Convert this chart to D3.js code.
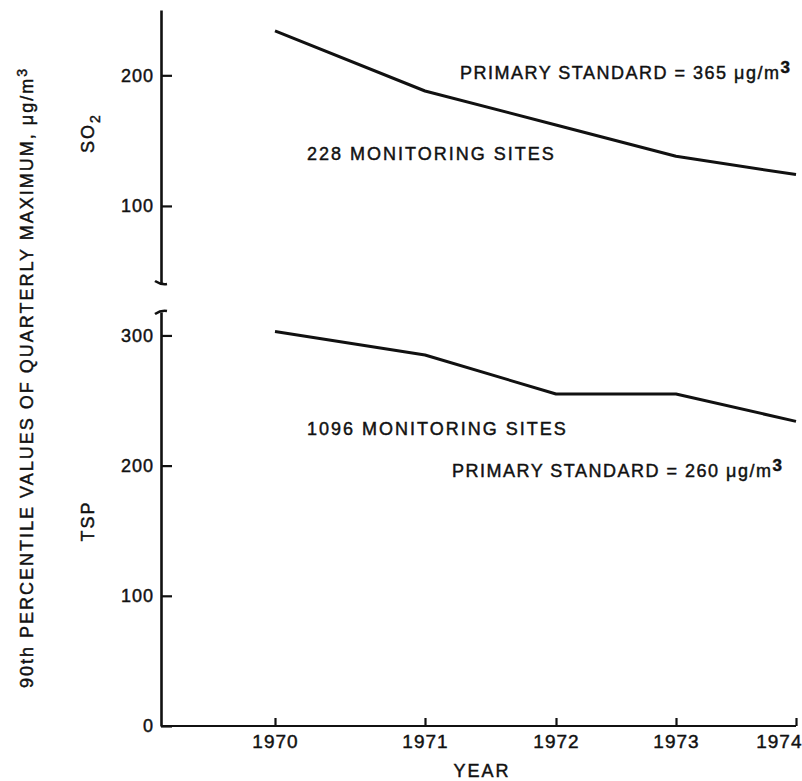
<!DOCTYPE html>
<html>
<head>
<meta charset="utf-8">
<script src="https://cdn.jsdelivr.net/npm/d3@7"></script>
<style>
  body { margin: 0; background: #fff; }
  text { font-family: "Liberation Sans", Arial, Helvetica, sans-serif; fill: #111; stroke: #111; stroke-width: 0.45px; }
</style>
</head>
<body>
<div id="chart"></div>
<script>
// data
const years = [1970, 1971, 1972, 1973, 1974];
const so2Values = [234, 188, 162, 138, 124];
const tspValues = [303, 285, 255, 255, 234];
const so2Ticks = [100, 200];
const tspTicks = [0, 100, 200, 300];

const width = 802, height = 781;
const axisX = 161;

const svg = d3.select("#chart")
    .append("svg")
    .attr("width", width)
    .attr("height", height);

// x scale (the year ticks in the print are not evenly spaced)
const x = d3.scaleLinear()
    .domain(years)
    .range([275, 425, 556, 676, 796]);

// two y scales, one for each panel
const ySO2 = d3.scaleLinear()
    .domain([41, 250])
    .range([283, 10]);

const yTSP = d3.scaleLinear()
    .domain([0, 318])
    .range([726, 312]);

function styleAxis(g) {
    g.selectAll("path").attr("stroke", "#111").attr("stroke-width", 2.6);
    g.selectAll("line").attr("stroke", "#111").attr("stroke-width", 2.2);
    g.selectAll("text")
        .attr("style", "font-size: 18px; letter-spacing: 1px; fill: #111; font-family: 'Liberation Sans', Arial, sans-serif");
}

// SO2 axis
svg.append("g")
    .attr("transform", `translate(${axisX},0)`)
    .call(d3.axisLeft(ySO2).tickValues(so2Ticks).tickSizeInner(-11).tickSizeOuter(0).tickPadding(7))
    .call(styleAxis);

// TSP axis
svg.append("g")
    .attr("transform", `translate(${axisX},0)`)
    .call(d3.axisLeft(yTSP).tickValues(tspTicks).tickSizeInner(-11).tickSizeOuter(0).tickPadding(7))
    .call(styleAxis);

// little hooks at the axis break
svg.append("path")
    .attr("d", `M${axisX - 6},${ySO2.range()[0] - 2} Q${axisX},${ySO2.range()[0] + 2} ${axisX + 6},${ySO2.range()[0] + 1}`)
    .attr("fill", "none").attr("stroke", "#111").attr("stroke-width", 2.6);
svg.append("path")
    .attr("d", `M${axisX - 6},${yTSP.range()[1] + 2} Q${axisX},${yTSP.range()[1] - 2} ${axisX + 6},${yTSP.range()[1] - 1}`)
    .attr("fill", "none").attr("stroke", "#111").attr("stroke-width", 2.6);

// X axis
const xg = svg.append("g")
    .attr("transform", `translate(0,${yTSP(0)})`)
    .call(d3.axisBottom(x).tickValues(years).tickFormat(d3.format("d")).tickSizeInner(-8).tickSizeOuter(0).tickPadding(9));
xg.select(".domain").remove();
xg.append("line")
    .attr("x1", axisX).attr("x2", x(1974))
    .attr("y1", 0).attr("y2", 0);
styleAxis(xg);
xg.selectAll("text").attr("style", "font-size: 19px; letter-spacing: 1px; fill: #111; font-family: 'Liberation Sans', Arial, sans-serif");
xg.selectAll(".tick").filter(d => d === 1974).select("text")
    .attr("text-anchor", "end")
    .attr("x", 6);

// lines
const lineSO2 = d3.line()
    .x((d, i) => x(years[i]))
    .y(d => ySO2(d));
const lineTSP = d3.line()
    .x((d, i) => x(years[i]))
    .y(d => yTSP(d));

svg.append("path")
    .datum(so2Values)
    .attr("d", lineSO2)
    .attr("fill", "none")
    .attr("stroke", "#111")
    .attr("stroke-width", 3)
    .attr("stroke-linejoin", "round");

svg.append("path")
    .datum(tspValues)
    .attr("d", lineTSP)
    .attr("fill", "none")
    .attr("stroke", "#111")
    .attr("stroke-width", 3)
    .attr("stroke-linejoin", "round");

const labelStyle = "font-size: 18px; letter-spacing: 2px; fill: #111";

// annotations
const ps1 = svg.append("text")
    .attr("x", 460).attr("y", 79)
    .attr("style", "font-size: 18px; letter-spacing: 1.5px; fill: #111");
ps1.append("tspan").text("PRIMARY STANDARD = 365 μg/m");
ps1.append("tspan").attr("dy", -6).attr("style", "font-size: 17px; font-weight: bold; letter-spacing: 0").text("3");

svg.append("text")
    .attr("x", 307).attr("y", 160)
    .attr("style", labelStyle)
    .text("228 MONITORING SITES");

svg.append("text")
    .attr("x", 307).attr("y", 435)
    .attr("style", labelStyle)
    .text("1096 MONITORING SITES");

const ps2 = svg.append("text")
    .attr("x", 452).attr("y", 477)
    .attr("style", "font-size: 18px; letter-spacing: 1.5px; fill: #111");
ps2.append("tspan").text("PRIMARY STANDARD = 260 μg/m");
ps2.append("tspan").attr("dy", -6).attr("style", "font-size: 17px; font-weight: bold; letter-spacing: 0").text("3");

// panel labels
const so2Label = svg.append("text")
    .attr("transform", "translate(94,133) rotate(-90)")
    .attr("text-anchor", "middle")
    .attr("style", labelStyle);
so2Label.append("tspan").text("SO");
so2Label.append("tspan").attr("dy", 6).attr("style", "font-size: 14px").text("2");

svg.append("text")
    .attr("transform", "translate(94,521) rotate(-90)")
    .attr("text-anchor", "middle")
    .attr("style", labelStyle)
    .text("TSP");

// y title
const yTitle = svg.append("text")
    .attr("transform", "translate(33,688) rotate(-90)")
    .attr("text-anchor", "start")
    .attr("style", labelStyle);
yTitle.append("tspan").text("90th PERCENTILE VALUES OF QUARTERLY MAXIMUM, μg/m");
yTitle.append("tspan").attr("dy", -6).attr("style", "font-size: 14px; letter-spacing: 0").text("3");

// x title
svg.append("text")
    .attr("x", 482).attr("y", 777)
    .attr("text-anchor", "middle")
    .attr("style", labelStyle)
    .text("YEAR");
</script>
</body>
</html>
